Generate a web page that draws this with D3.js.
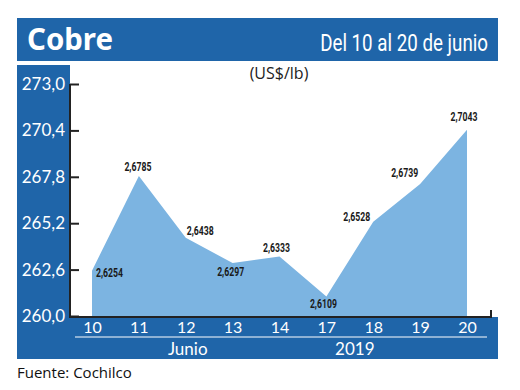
<!DOCTYPE html>
<html>
<head>
<meta charset="utf-8">
<script src="https://cdn.jsdelivr.net/npm/d3@7"></script>
<style>
  body { margin: 0; background: #fff; }
</style>
</head>
<body>
<div id="chart"></div>
<script>
// data (US$/lb)
const days = ["10", "11", "12", "13", "14", "17", "18", "19", "20"];
const prices = [2.6254, 2.6785, 2.6438, 2.6297, 2.6333, 2.6109, 2.6528, 2.6739, 2.7043];
const yTicks = [260.0, 262.6, 265.2, 267.8, 270.4, 273.0];
const groupLabels = ["Junio", "2019"];

const W = 520, H = 390;
const blue = "#1f65a9";
const fillBlue = "#7cb4e1";

const svg = d3.select("#chart").append("svg")
  .attr("width", W)
  .attr("height", H);

// header bar
svg.append("rect").attr("x", 17).attr("y", 18).attr("width", 481).attr("height", 43).attr("fill", blue);
svg.append("text")
  .attr("x", 27).attr("y", 50)
  .style("font-family", "'Noto Sans', sans-serif")
  .style("font-weight", "bold")
  .style("font-size", "30px")
  .attr("fill", "#fff")
  .attr("textLength", 86).attr("lengthAdjust", "spacingAndGlyphs")
  .text("Cobre");

// subtitle, squeezed horizontally to a condensed look
const sub = svg.append("text")
  .attr("text-anchor", "end")
  .style("font-family", "Roboto, sans-serif")
  .style("font-size", "23px")
  .attr("fill", "#fff")
  .text("Del 10 al 20 de junio");
const subLen = sub.node().getComputedTextLength();
sub.attr("transform", "translate(488,51) scale(" + (168 / subLen) + ",1)");

// left panel and bottom band
svg.append("rect").attr("x", 17).attr("y", 65).attr("width", 53).attr("height", 294).attr("fill", blue);
svg.append("rect").attr("x", 17).attr("y", 317).attr("width", 481).attr("height", 42).attr("fill", blue);

// unit
svg.append("text")
  .attr("x", 279).attr("y", 79)
  .attr("text-anchor", "middle")
  .style("font-family", "'Open Sans', sans-serif")
  .style("font-size", "16px")
  .attr("fill", "#222")
  .text("(US$/lb)");

// scales
const x = d3.scalePoint().domain(days).range([92, 467]);
const y = d3.scaleLinear().domain([260, 273]).range([316, 84]);

// area
const area = d3.area()
  .x((d, i) => x(days[i]))
  .y0(y(260))
  .y1(d => y(d * 100));
svg.append("path")
  .datum(prices)
  .attr("d", area)
  .attr("fill", fillBlue);

// y axis
const comma = v => d3.format(".1f")(v).replace(".", ",");
const yAxis = svg.append("g")
  .attr("transform", "translate(70,0)")
  .call(d3.axisRight(y).tickValues(yTicks).tickSize(9).tickFormat(""));
yAxis.select(".domain").remove();
yAxis.selectAll(".tick line").attr("stroke", "#222").attr("stroke-width", 2);
svg.append("g")
  .selectAll("text")
  .data(yTicks)
  .enter()
  .append("text")
  .attr("x", 65)
  .attr("y", d => y(d) + 6)
  .attr("text-anchor", "end")
  .style("font-family", "Lato, sans-serif")
  .style("font-size", "17px")
  .attr("fill", "#fff")
  .text(comma);

// axis frame
svg.append("path")
  .attr("d", "M70,84 V317 H491 V310")
  .attr("fill", "none")
  .attr("stroke", "#222")
  .attr("stroke-width", 2);

// x axis labels
const xAxis = svg.append("g")
  .attr("transform", "translate(0,317)")
  .call(d3.axisBottom(x).tickSize(0).tickPadding(5));
xAxis.select(".domain").remove();
xAxis.selectAll("text")
  .style("font-family", "Lato, sans-serif")
  .style("font-size", "16px")
  .attr("fill", "#fff");

// separator under days
svg.append("line")
  .attr("x1", 75).attr("x2", 487)
  .attr("y1", 337).attr("y2", 337)
  .attr("stroke", "#fff").attr("stroke-width", 1);

// group labels
svg.append("g")
  .selectAll("text")
  .data(groupLabels)
  .enter()
  .append("text")
  .attr("x", (d, i) => i === 0 ? (x("12") + 2) : (x("17") + x("18")) / 2 + 5)
  .attr("y", 355)
  .attr("text-anchor", "middle")
  .style("font-family", "Lato, sans-serif")
  .style("font-size", "17px")
  .attr("fill", "#fff")
  .text(d => d);

// value labels: [dx, dy, anchor]
const labelPos = [
  [4, 6, "start"], [-1, -5, "middle"], [1, -3, "start"], [-2, 13, "middle"], [-3, -5, "middle"],
  [-3, 11, "middle"], [-3, -1, "end"], [-2, -7, "end"], [-3, -9, "middle"]
];
svg.append("g")
  .selectAll("text")
  .data(prices)
  .enter()
  .append("text")
  .attr("x", (d, i) => x(days[i]) + labelPos[i][0])
  .attr("y", (d, i) => y(d * 100) + labelPos[i][1])
  .attr("text-anchor", (d, i) => labelPos[i][2])
  .style("font-family", "Roboto, sans-serif")
  .style("font-size", "13px")
  .style("font-weight", "bold")
  .attr("fill", "#1a1a1a")
  .attr("textLength", 27).attr("lengthAdjust", "spacingAndGlyphs")
  .text(d => d3.format(".4f")(d).replace(".", ","));

// source
svg.append("text")
  .attr("x", 17).attr("y", 378)
  .style("font-family", "'Open Sans', sans-serif")
  .style("font-size", "15px")
  .attr("fill", "#111")
  .text("Fuente: Cochilco");
</script>
</body>
</html>
